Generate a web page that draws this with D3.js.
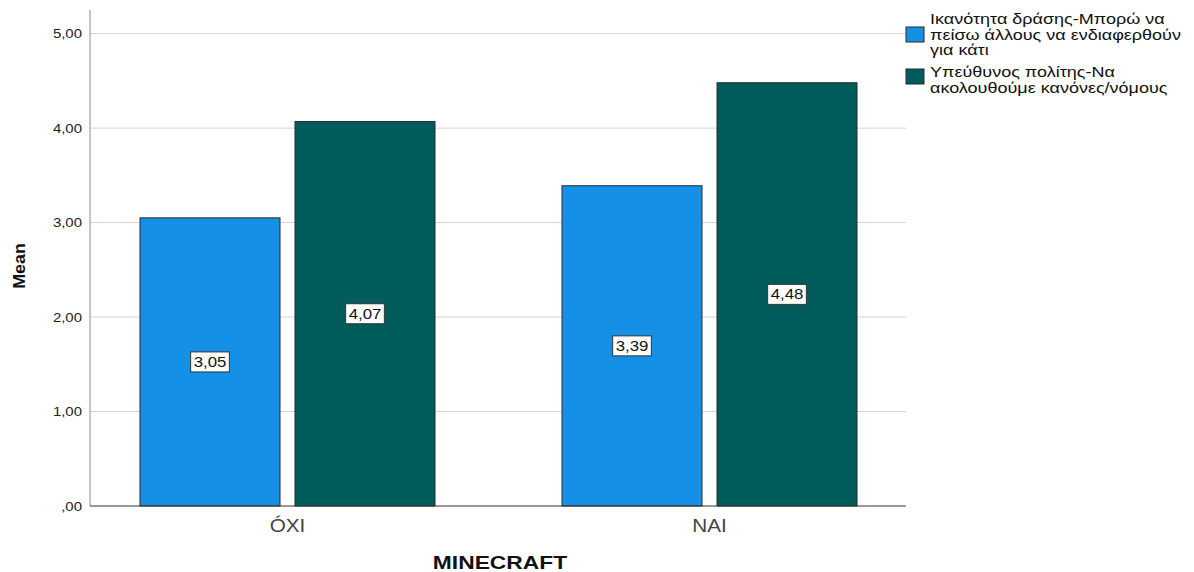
<!DOCTYPE html>
<html>
<head>
<meta charset="utf-8">
<script src="https://cdn.jsdelivr.net/npm/d3@7"></script>
<style>
  html, body { margin: 0; padding: 0; background: #fff; }
  svg { display: block; font-family: "Liberation Sans", Arial, sans-serif; }
</style>
</head>
<body>
<svg id="chart" width="1194" height="572"></svg>
<script>
// Category labels along the x axis
const categories = ["ÓXI", "NAI"];
// Series names (legend entries, wrapped into lines)
const seriesNames = [
  ["Ικανότητα δράσης-Μπορώ να", "πείσω άλλους να ενδιαφερθούν", "για κάτι"],
  ["Υπεύθυνος πολίτης-Να", "ακολουθούμε κανόνες/νόμους"]
];
// Mean values per series, one per category
const seriesAction = [3.05, 3.39];
const seriesCitizen = [4.07, 4.48];
const seriesColors = ["#1490e6", "#005b5b"];
// Y axis ticks and labels
const yTicks = [0, 1, 2, 3, 4, 5];
const yTickLabels = [",00", "1,00", "2,00", "3,00", "4,00", "5,00"];

const seriesValues = [seriesAction, seriesCitizen];
const fmt = v => v.toFixed(2).replace(".", ",");

// the chart's text is set in a horizontally widened face
const WIDEN = 1.2;
function widen(sel, k = WIDEN) {
  sel.each(function() {
    const w = this.getComputedTextLength();
    d3.select(this).attr("textLength", w * k).attr("lengthAdjust", "spacingAndGlyphs");
  });
}

const svg = d3.select("#chart");

const plotLeft = 90, plotRight = 906;
const y = d3.scaleLinear().domain([0, 5.25]).range([506, 10]);
const x = d3.scaleBand().domain(categories).range([76.5, 920.5]);
// bars: 140 wide, 15 apart, centred in each category band
const xs = d3.scaleBand().domain(d3.range(seriesValues.length))
  .range([x.bandwidth() / 2 - 147.5, x.bandwidth() / 2 + 147.5])
  .paddingInner(15 / 155).paddingOuter(0);

// gridlines
svg.append("g").selectAll("line").data(yTicks.filter(t => t > 0)).join("line")
  .attr("x1", plotLeft).attr("x2", plotRight)
  .attr("y1", d => y(d)).attr("y2", d => y(d))
  .attr("stroke", "#d4d4d4").attr("stroke-width", 1);

// y axis
const yAxis = d3.axisLeft(y).tickValues(yTicks).tickFormat((d, i) => yTickLabels[i]).tickSize(0).tickPadding(8);
const gy = svg.append("g").attr("transform", `translate(${plotLeft},0)`).call(yAxis);
gy.select(".domain").attr("stroke", "#8c8c8c").attr("d", `M0,${y.range()[1]}V${y(0)}`);
gy.selectAll(".tick text").attr("font-size", 13).attr("fill", "#222").call(widen, 1.15);

// bars
const groups = svg.append("g").selectAll("g").data(categories).join("g")
  .attr("transform", d => `translate(${x(d)},0)`);

groups.each(function(cat, ci) {
  const g = d3.select(this);
  seriesValues.forEach((vals, si) => {
    const v = vals[ci];
    g.append("rect")
      .attr("x", xs(si)).attr("width", xs.bandwidth())
      .attr("y", y(v)).attr("height", y(0) - y(v))
      .attr("fill", seriesColors[si]).attr("stroke", "#2b2b2b").attr("stroke-width", 1);
    const cx = xs(si) + xs.bandwidth() / 2;
    const cy = y(v / 2);
    const lbl = g.append("g").attr("transform", `translate(${cx},${cy})`);
    const t = lbl.append("text").attr("text-anchor", "middle").attr("dy", "0.36em")
      .attr("font-size", 14).attr("fill", "#111").text(fmt(v)).call(widen);
    const w = t.node().getComputedTextLength();
    lbl.insert("rect", "text")
      .attr("x", -w / 2 - 3).attr("y", -10).attr("width", w + 6).attr("height", 20)
      .attr("fill", "#fff").attr("stroke", "#333").attr("stroke-width", 1);
  });
});

// x axis baseline and category labels
svg.append("line").attr("x1", plotLeft).attr("x2", plotRight).attr("y1", y(0)).attr("y2", y(0))
  .attr("stroke", "#333").attr("stroke-width", 1);
svg.append("g").selectAll("text").data(categories).join("text")
  .attr("x", d => x(d) + x.bandwidth() / 2).attr("y", 532)
  .attr("text-anchor", "middle").attr("font-size", 18).attr("fill", "#444").text(d => d)
  .call(widen, 1.15);

// axis titles
svg.append("text").attr("transform", "translate(25,266) rotate(-90)")
  .attr("text-anchor", "middle").attr("font-size", 17).attr("font-weight", "bold")
  .attr("fill", "#111").text("Mean").call(widen, 1.05);
svg.append("text").attr("x", 500).attr("y", 569).attr("text-anchor", "middle")
  .attr("font-size", 19).attr("font-weight", "bold").attr("fill", "#111").text("MINECRAFT")
  .call(widen);

// legend
const legend = svg.append("g");
const legendBaseline = [24, 77];
const legendSwatch = [27, 69];
seriesNames.forEach((lines, i) => {
  legend.append("rect").attr("x", 906).attr("y", legendSwatch[i]).attr("width", 18).attr("height", 15)
    .attr("fill", seriesColors[i]).attr("stroke", "#2b2b2b").attr("stroke-width", 1);
  lines.forEach((ln, j) => {
    legend.append("text").attr("x", 930).attr("y", legendBaseline[i] + j * 15.5)
      .attr("font-size", 15).attr("fill", "#111").text(ln).call(widen);
  });
});
</script>
</body>
</html>
